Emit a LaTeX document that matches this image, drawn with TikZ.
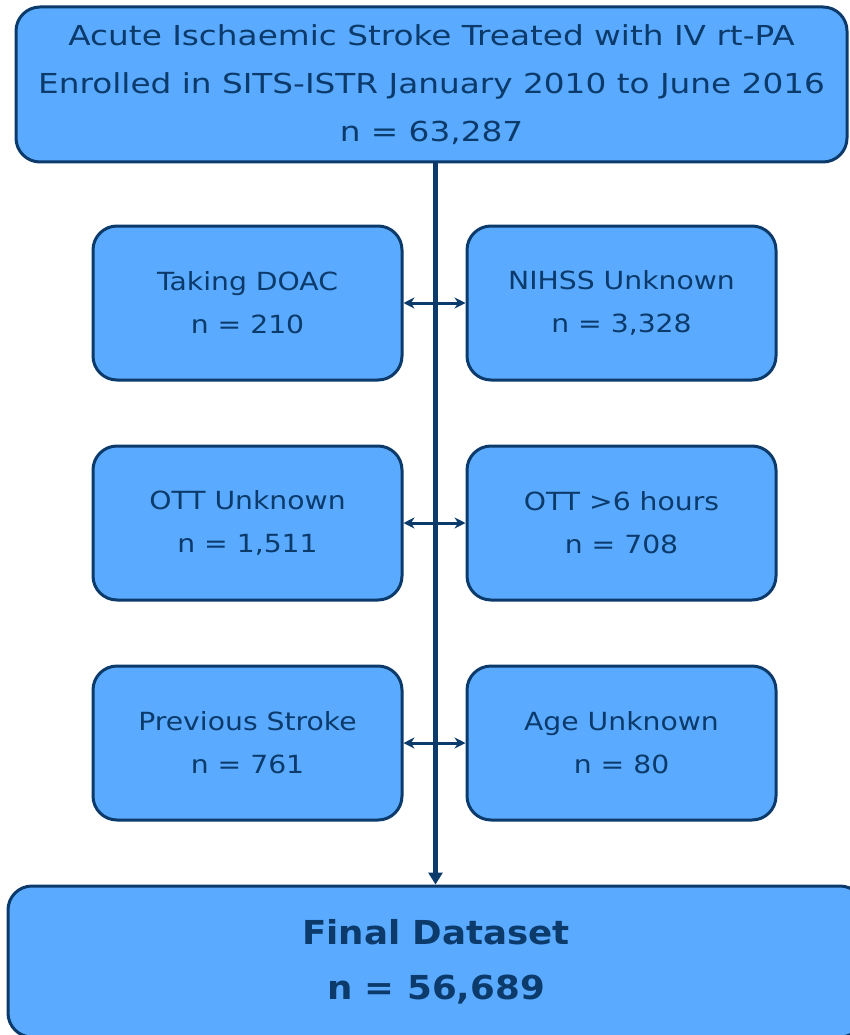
\documentclass[tikz,border=0pt]{standalone}
\usepackage{fontspec}
\setmainfont{DejaVu Sans}
\newfontfamily\topfont[FakeStretch=1.19]{DejaVu Sans}
\newfontfamily\sidefont[FakeStretch=1.13]{DejaVu Sans}
\newfontfamily\finalfont[FakeStretch=1.08]{DejaVu Sans}
\usetikzlibrary{arrows.meta}
\definecolor{boxblue}{HTML}{5AABFF}
\definecolor{navy}{HTML}{0B3A6B}
\tikzset{
  flowbox/.style={draw=navy, line width=3pt, fill=boxblue, rounded corners=24pt,
    text=navy, align=center, minimum width=309pt, minimum height=154pt,
    font=\sidefont\fontsize{25}{43}\selectfont},
  excl/.style={navy, line width=3pt, {Stealth[width=11pt,length=11pt]}-{Stealth[width=11pt,length=11pt]}}
}
\begin{document}
\begin{tikzpicture}[x=1pt,y=-1pt]
\useasboundingbox (0,0) rectangle (849,1035);
\node[flowbox, minimum width=831pt, minimum height=155pt, font=\topfont\fontsize{27.5}{48}\selectfont] (start) at (431.5,84.5)
  {Acute Ischaemic Stroke Treated with IV rt-PA\\Enrolled in SITS-ISTR January 2010 to June 2016\\n = 63,287};
\node[flowbox, minimum width=856pt, minimum height=151pt, font=\finalfont\fontsize{33}{55}\selectfont\bfseries] (final) at (436,961.5)
  {Final Dataset\\n = 56,689};
\coordinate (spine) at (435.5,0);
\draw[navy, line width=5pt, -{Triangle[width=14pt,length=12pt]}] (start.south -| spine) -- (final.north -| spine);
\foreach \y/\k/\ltxt/\rtxt in {303/1/{Taking DOAC\\n = 210}/{NIHSS Unknown\\n = 3,328},
    523/2/{OTT Unknown\\n = 1,511}/{OTT >6 hours\\n = 708},
    743/3/{Previous Stroke\\n = 761}/{Age Unknown\\n = 80}} {
  \node[flowbox] (left\k) at (247.5,\y) {\ltxt};
  \node[flowbox] (right\k) at (621.5,\y) {\rtxt};
  \draw[excl] (left\k) -- (right\k);
}
\end{tikzpicture}
\end{document}
